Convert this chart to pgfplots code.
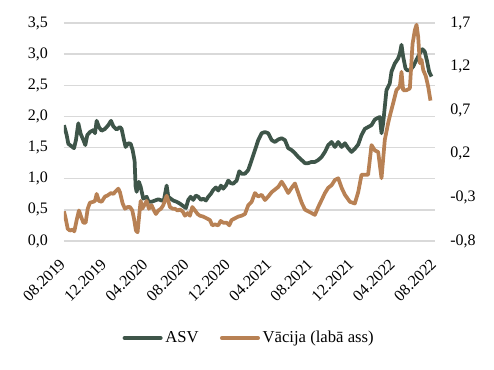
\documentclass[border=0pt]{standalone}
\usepackage{pgfplots}
\pgfplotsset{compat=1.18}
\usepackage{fontspec}
\setmainfont{Liberation Serif}
\definecolor{asv}{HTML}{3E5549}
\definecolor{de}{HTML}{B88154}
\definecolor{gridc}{HTML}{D9D9D9}
\begin{document}
\begin{tikzpicture}
\path[use as bounding box] (-48pt,-96pt) rectangle (322.5pt,180.75pt);
\begin{axis}[
  scale only axis, width=278.25pt, height=163.5pt,
  at={(0,0)}, anchor=south west,
  xmin=0, xmax=36, ymin=0, ymax=3.5,
  xtick={0,4,...,36},
  xticklabels={08.2019,12.2019,04.2020,08.2020,12.2020,04.2021,08.2021,12.2021,04.2022,08.2022},
  ytick={0,0.5,...,3.5},
  yticklabels={{0,0},{0,5},{1,0},{1,5},{2,0},{2,5},{3,0},{3,5}},
  axis line style={draw=none}, major tick length=0pt,
  ymajorgrids, grid style={gridc, line width=1.1pt},
  tick label style={font=\fontsize{12}{14}\selectfont, text=black},
  yticklabel style={xshift=-8.5pt},
  xticklabel style={xshift=1.3pt, yshift=-13pt, rotate=45, anchor=east},
  legend style={at={(0.5,-0.445)}, anchor=center, draw=none, fill=none,
    font=\fontsize{12.5}{14}\selectfont, legend columns=2,
    /tikz/every even column/.append style={column sep=14pt}},
  legend image code/.code={\draw[#1, line width=3pt, line cap=round] (0pt,0pt) -- (27pt,0pt);},
]
\addplot[asv, line width=2.8pt, line join=round] table {
0.00 1.86
0.26 1.70
0.42 1.56
0.74 1.52
0.97 1.49
1.16 1.62
1.39 1.89
1.62 1.72
1.88 1.62
2.07 1.54
2.26 1.70
2.52 1.75
2.85 1.78
3.01 1.73
3.17 1.93
3.39 1.83
3.65 1.77
3.98 1.80
4.30 1.86
4.56 1.93
4.79 1.84
5.11 1.79
5.43 1.83
5.59 1.80
5.82 1.62
5.98 1.51
6.24 1.57
6.47 1.56
6.66 1.46
6.85 1.29
6.95 0.87
7.05 0.79
7.27 0.95
7.44 0.87
7.69 0.68
8.02 0.71
8.21 0.63
8.50 0.63
8.83 0.65
9.15 0.67
9.47 0.65
9.70 0.66
9.96 0.89
10.12 0.71
10.35 0.68
10.60 0.65
10.93 0.63
11.25 0.60
11.57 0.56
11.83 0.53
12.06 0.66
12.29 0.71
12.54 0.66
12.80 0.73
13.03 0.71
13.29 0.66
13.51 0.68
13.77 0.65
14.00 0.71
14.26 0.76
14.48 0.82
14.74 0.86
14.97 0.81
15.23 0.89
15.45 0.84
15.71 0.89
15.94 0.97
16.17 0.93
16.42 0.92
16.75 0.97
17.01 1.12
17.23 1.08
17.56 1.08
17.88 1.14
18.21 1.30
18.53 1.46
18.85 1.62
19.18 1.73
19.50 1.75
19.82 1.73
20.15 1.62
20.47 1.59
20.79 1.63
21.12 1.65
21.44 1.62
21.76 1.49
22.09 1.46
22.41 1.41
22.73 1.35
23.06 1.30
23.38 1.25
23.70 1.25
24.03 1.27
24.35 1.27
24.67 1.30
25.00 1.35
25.32 1.43
25.64 1.54
25.97 1.59
26.29 1.51
26.61 1.59
26.94 1.51
27.26 1.57
27.58 1.49
27.90 1.43
28.22 1.48
28.55 1.55
28.87 1.70
29.19 1.80
29.51 1.83
29.84 1.86
30.16 1.95
30.49 1.98
30.65 1.99
30.81 1.73
30.97 1.89
31.29 2.42
31.61 2.53
31.78 2.72
32.10 2.85
32.42 2.93
32.59 3.01
32.75 3.15
32.91 2.96
33.14 2.77
33.33 2.74
33.56 2.74
33.88 2.80
34.20 2.91
34.52 3.01
34.78 3.08
35.01 3.04
35.24 2.88
35.43 2.72
35.66 2.64
};
\addlegendentry{ASV}
\addlegendimage{de}
\addlegendentry{Vācija (labā ass)}
\end{axis}
\begin{axis}[
  scale only axis, width=278.25pt, height=163.5pt,
  at={(0,0)}, anchor=south west,
  xmin=0, xmax=36, ymin=-0.8, ymax=1.7,
  hide x axis, axis y line*=right,
  ytick={-0.8,-0.3,0.2,0.7,1.2,1.7},
  yticklabels={{-0,8},{-0,3},{0,2},{0,7},{1,2},{1,7}},
  axis line style={draw=none}, major tick length=0pt,
  tick label style={font=\fontsize{12}{14}\selectfont, text=black},
  yticklabel style={anchor=west, xshift=8pt},
]
\addplot[de, line width=2.8pt, line join=round] table {
0.00 -0.46
0.16 -0.54
0.36 -0.66
0.58 -0.68
0.84 -0.67
1.00 -0.69
1.23 -0.56
1.45 -0.45
1.65 -0.52
1.88 -0.59
2.10 -0.59
2.30 -0.43
2.52 -0.36
2.85 -0.35
3.01 -0.34
3.17 -0.26
3.39 -0.34
3.65 -0.35
3.98 -0.29
4.20 -0.28
4.56 -0.25
4.79 -0.26
5.01 -0.23
5.27 -0.20
5.43 -0.24
5.69 -0.37
5.92 -0.43
6.18 -0.41
6.40 -0.41
6.63 -0.45
6.82 -0.56
6.98 -0.68
7.14 -0.70
7.31 -0.49
7.44 -0.34
7.60 -0.43
7.79 -0.39
8.02 -0.34
8.24 -0.43
8.50 -0.39
8.73 -0.45
8.92 -0.49
9.15 -0.45
9.41 -0.43
9.63 -0.39
9.96 -0.28
10.12 -0.34
10.28 -0.41
10.54 -0.43
10.77 -0.43
11.02 -0.45
11.25 -0.44
11.51 -0.46
11.74 -0.51
12.00 -0.48
12.22 -0.51
12.45 -0.41
12.71 -0.45
12.96 -0.49
13.19 -0.51
13.51 -0.52
13.84 -0.54
14.16 -0.56
14.39 -0.62
14.65 -0.61
14.97 -0.62
15.20 -0.57
15.45 -0.59
15.78 -0.59
16.04 -0.62
16.26 -0.56
16.59 -0.54
16.91 -0.52
17.23 -0.51
17.56 -0.49
17.88 -0.39
18.21 -0.35
18.53 -0.25
18.85 -0.29
19.18 -0.27
19.50 -0.33
19.82 -0.29
20.15 -0.24
20.47 -0.21
20.79 -0.18
21.12 -0.12
21.44 -0.18
21.76 -0.25
22.09 -0.19
22.41 -0.14
22.73 -0.25
23.06 -0.36
23.38 -0.44
23.70 -0.46
24.03 -0.48
24.35 -0.50
24.67 -0.41
25.00 -0.33
25.32 -0.25
25.64 -0.19
25.97 -0.16
26.29 -0.10
26.61 -0.08
26.94 -0.19
27.26 -0.27
27.74 -0.35
28.22 -0.37
28.55 -0.24
28.87 -0.04
29.19 -0.04
29.51 -0.04
29.84 0.30
30.16 0.24
30.49 0.22
30.81 -0.08
31.13 0.36
31.45 0.55
31.61 0.63
31.94 0.78
32.26 0.93
32.59 0.97
32.75 1.14
32.91 0.93
33.24 0.93
33.56 0.95
33.82 1.46
34.05 1.62
34.21 1.68
34.37 1.54
34.53 1.24
34.69 1.28
34.86 1.16
35.11 1.09
35.34 0.97
35.56 0.81
};
\end{axis}
\end{tikzpicture}
\end{document}
